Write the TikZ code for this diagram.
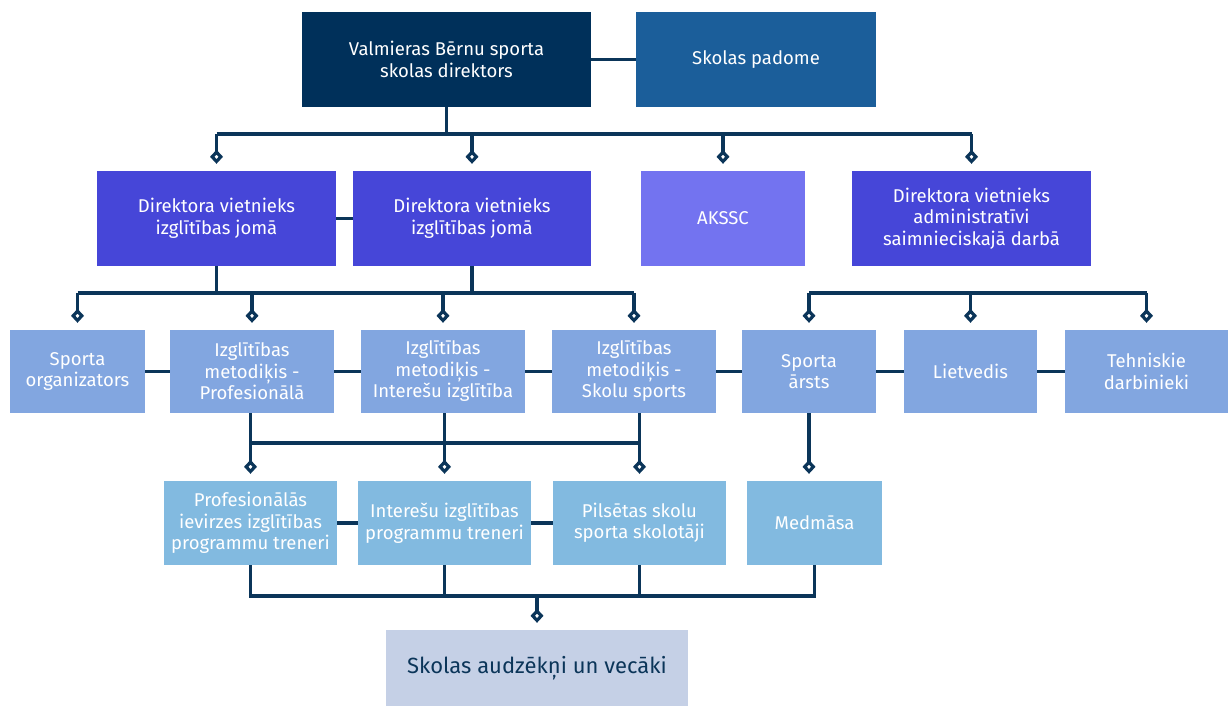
\documentclass[tikz,border=0pt]{standalone}
\usepackage{fontspec}
\setmainfont{Fira Sans}
\usepackage{xcolor}
\usetikzlibrary{arrows.meta,calc}

\definecolor{navy}{HTML}{00305A}
\definecolor{linenavy}{HTML}{0B3559}
\definecolor{midblue}{HTML}{1B5E9A}
\definecolor{violet}{HTML}{4646D8}
\definecolor{lilac}{HTML}{7373F0}
\definecolor{paleblue}{HTML}{82A6E0}
\definecolor{skyblue}{HTML}{82BAE0}
\definecolor{greyblue}{HTML}{C5D0E6}

\begin{document}
\begin{tikzpicture}[x=1pt, y=-1pt,
		box/.style={rectangle, inner sep=0pt, align=center, text=white,
			font=\fontsize{18.5}{21.5}\selectfont},
		conn/.style={draw=linenavy, line width=3.2pt},
		tip/.style={conn, -{Diamond[open, length=14pt, width=13pt]}, shorten >=7pt}]
			\useasboundingbox (0, 0) rectangle (1229, 706);
			
			%Level 1
			\node[box, fill=navy, minimum width=289, minimum height=95] (dir) at (446.5, 59.5) {Valmieras Bērnu sporta\\skolas direktors};
			\node[box, fill=midblue, minimum width=240, minimum height=95] (pad) at (756, 59.5) {Skolas padome};
			
			%Level 2
			\node[box, fill=violet, minimum width=239, minimum height=95] (dv1) at (216.5, 218.5) {Direktora vietnieks\\izglītības jomā};
			\node[box, fill=violet, minimum width=238, minimum height=95] (dv2) at (472, 218.5) {Direktora vietnieks\\izglītības jomā};
			\node[box, fill=lilac, minimum width=164, minimum height=95] (akssc) at (723, 218.5) {AKSSC};
			\node[box, fill=violet, minimum width=239, minimum height=95] (dv3) at (971.5, 218.5) {Direktora vietnieks\\administratīvi\\saimnieciskajā darbā};
			
			%Level 3
			\node[box, fill=paleblue, minimum width=135, minimum height=83] (org) at (77.5, 371.5) {Sporta\\organizators};
			\node[box, fill=paleblue, minimum width=164, minimum height=83] (mprof) at (252, 371.5) {Izglītības\\metodiķis -\\Profesionālā};
			\node[box, fill=paleblue, minimum width=164, minimum height=83] (mint) at (443, 371.5) {Izglītības\\metodiķis -\\Interešu izglītība};
			\node[box, fill=paleblue, minimum width=164, minimum height=83] (mskol) at (634, 371.5) {Izglītības\\metodiķis -\\Skolu sports};
			\node[box, fill=paleblue, minimum width=134, minimum height=83] (arsts) at (809, 371.5) {Sporta\\ārsts};
			\node[box, fill=paleblue, minimum width=133, minimum height=83] (liet) at (970.5, 371.5) {Lietvedis};
			\node[box, fill=paleblue, minimum width=163, minimum height=83] (teh) at (1146.5, 371.5) {Tehniskie\\darbinieki};
			
			%Level 4
			\node[box, fill=skyblue, minimum width=173, minimum height=84] (tprof) at (250.5, 523) {Profesionālās\\ievirzes izglītības\\programmu treneri};
			\node[box, fill=skyblue, minimum width=173, minimum height=84] (tint) at (444.5, 523) {Interešu izglītības\\programmu treneri};
			\node[box, fill=skyblue, minimum width=173, minimum height=84] (pilsk) at (639.5, 523) {Pilsētas skolu\\sporta skolotāji};
			\node[box, fill=skyblue, minimum width=135, minimum height=84] (med) at (814.5, 523) {Medmāsa};
			
			%Level 5
			\node[box, fill=greyblue, text=linenavy, minimum width=302, minimum height=76,
				font=\fontsize{22}{26}\selectfont] (aud) at (537, 668) {Skolas audzēkņi un vecāki};
			
			%Bus points
			\coordinate (busA) at (0, 134);
			\coordinate (busB) at (0, 293);
			\coordinate (busC) at (0, 443);
			\coordinate (busD) at (0, 596);
			
			%Lines level 1 - 2
			\draw[conn] (dir.east) -- (pad.west);
			\draw[conn] (dir.south) -- (dir.south |- busA);
			\draw[conn] (dv1.north |- busA) -- (dv3.north |- busA);
			\draw[tip] (dv1.north |- busA) -- (dv1.north);
			\draw[tip] (dv2.north |- busA) -- (dv2.north);
			\draw[tip] (akssc.north |- busA) -- (akssc.north);
			\draw[tip] (dv3.north |- busA) -- (dv3.north);
			\draw[conn] (dv1.east) -- (dv2.west);
			
			%Lines level 2 - 3
			\draw[conn] (dv1.south) -- (dv1.south |- busB);
			\draw[conn] (dv2.south) -- (dv2.south |- busB);
			\draw[conn] (org.north |- busB) -- (mskol.north |- busB);
			\draw[tip] (org.north |- busB) -- (org.north);
			\draw[tip] (mprof.north |- busB) -- (mprof.north);
			\draw[tip] (mint.north |- busB) -- (mint.north);
			\draw[tip] (mskol.north |- busB) -- (mskol.north);
			\draw[conn] (arsts.north |- busB) -- (teh.north |- busB);
			\draw[tip] (arsts.north |- busB) -- (arsts.north);
			\draw[tip] (liet.north |- busB) -- (liet.north);
			\draw[tip] (teh.north |- busB) -- (teh.north);
			\draw[conn] (org.east) -- (mprof.west);
			\draw[conn] (mprof.east) -- (mint.west);
			\draw[conn] (mint.east) -- (mskol.west);
			\draw[conn] (mskol.east) -- (arsts.west);
			\draw[conn] (arsts.east) -- (liet.west);
			\draw[conn] (liet.east) -- (teh.west);
			
			%Lines level 3 - 4
			\draw[conn] (mprof.south -| tprof.north) -- (tprof.north |- busC) -- (pilsk.north |- busC);
			\draw[conn] (mint.south -| tint.north) -- (tint.north |- busC);
			\draw[conn] (mskol.south -| pilsk.north) -- (pilsk.north |- busC);
			\draw[tip] (tprof.north |- busC) -- (tprof.north);
			\draw[tip] (tint.north |- busC) -- (tint.north);
			\draw[tip] (pilsk.north |- busC) -- (pilsk.north);
			\draw[tip] (arsts.south) -- (arsts.south |- med.north);
			\draw[conn] (tprof.east) -- (tint.west);
			\draw[conn] (tint.east) -- (pilsk.west);
			
			%Lines level 4 - 5
			\draw[conn] (tprof.south) -- (tprof.south |- busD) -- (med.south |- busD) -- (med.south);
			\draw[conn] (tint.south) -- (tint.south |- busD);
			\draw[conn] (pilsk.south) -- (pilsk.south |- busD);
			\draw[tip] (aud.north |- busD) -- (aud.north);
\end{tikzpicture}
\end{document}
